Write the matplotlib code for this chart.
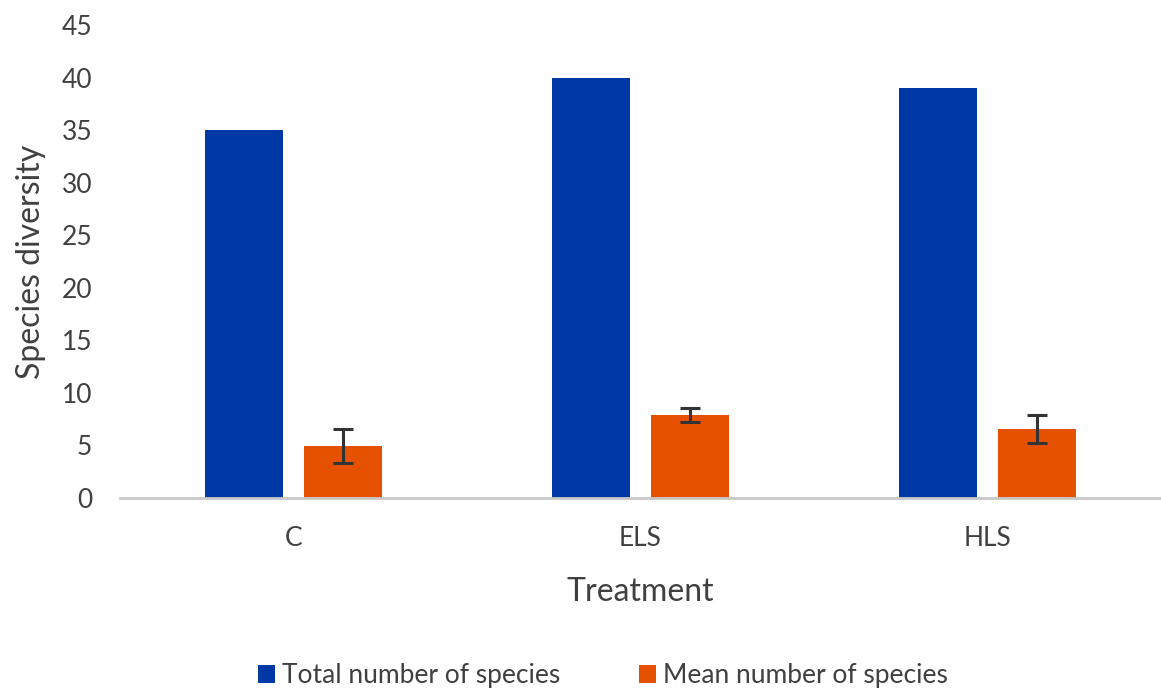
import matplotlib
matplotlib.use("Agg")
import matplotlib.pyplot as plt
import numpy as np

categories = ["C", "ELS", "HLS"]
total_species = [35, 40, 39]
mean_species = [4.95, 7.9, 6.55]
mean_err = [1.6, 0.65, 1.3]

plt.rcParams['font.family'] = ['Lato', 'DejaVu Sans']

fig = plt.figure(figsize=(11.61, 6.93), dpi=100)
ax = fig.add_axes([120/1161, 1-498/693, 1-120/1161, (498-25)/693])

x = np.arange(len(categories))
w = 0.224
off = 0.143
blue = "#0039A6"
orange = "#E65100"
ax.bar(x - off, total_species, w, color=blue, label="Total number of species", zorder=2)
ax.bar(x + off, mean_species, w, color=orange, label="Mean number of species", zorder=2,
       yerr=mean_err, error_kw=dict(ecolor="#333333", elinewidth=2.2, capsize=7, capthick=2.2))

ax.set_xlim(-0.5, 2.5)
ax.set_ylim(0, 45)
ax.set_yticks(np.arange(0, 46, 5))
ax.set_xticks(x)
ax.set_xticklabels(categories)
for s in ["top", "right", "left"]:
    ax.spines[s].set_visible(False)
ax.spines["bottom"].set_color("#C8C8C8")
ax.spines["bottom"].set_linewidth(2)
ax.tick_params(axis="y", length=0, pad=20, labelsize=19, labelcolor="#404040")
ax.tick_params(axis="x", length=0, pad=20, labelsize=19, labelcolor="#404040")
ax.set_ylabel("Species diversity", fontsize=23, color="#404040", labelpad=11)
ax.set_xlabel("Treatment", fontsize=23, color="#404040", labelpad=19)

ax.legend(loc="lower center", bbox_to_anchor=(0.464, -0.452), ncol=2, frameon=False,
          fontsize=19, handlelength=0.65, handleheight=0.65, handletextpad=0.25,
          columnspacing=3.0, labelcolor="#404040")

fig.savefig("out.png", dpi=100)
